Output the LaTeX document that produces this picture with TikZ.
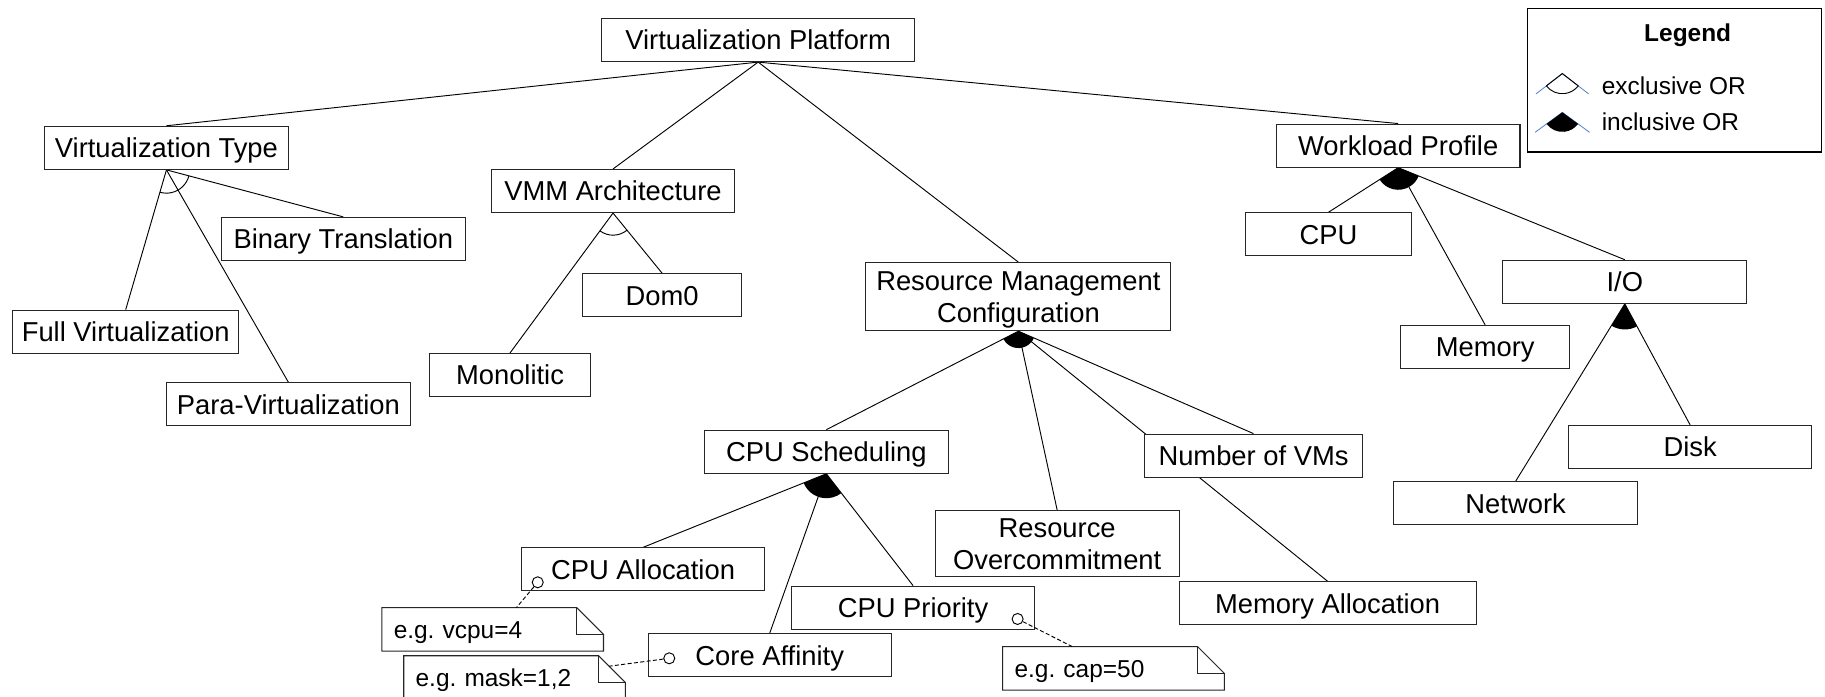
\documentclass[tikz,border=0pt]{standalone}
\usepackage{fontspec}
\setmainfont{Liberation Sans}
\usetikzlibrary{calc}
\pgfdeclarelayer{edges}
\pgfsetlayers{edges,main}

\definecolor{legblue}{RGB}{79,129,209}

\tikzset{
  x=1pt, y=-1pt,
  feat/.style={draw=black!85, fill=white, line width=0.9pt, inner sep=0pt,
    minimum height=37pt, align=center, text height=16.8pt, text depth=0pt,
    font=\fontsize{23.5}{27.5}\selectfont},
  twoline/.style={text height=44.3pt, text depth=0pt},
  link/.style={draw=black, line width=0.8pt},
  notebox/.style={inner xsep=10pt, inner ysep=0pt, minimum height=37pt,
    text width=170pt, align=left, text height=15pt, text depth=0pt,
    font=\fontsize{21}{25}\selectfont\frenchspacing},
  noteline/.style={draw=black!85, fill=white, line width=0.9pt},
  anno/.style={circle, draw=black, fill=white, line width=0.8pt, inner sep=0pt, minimum size=9.5pt},
  annolink/.style={draw=black, line width=0.8pt, dash pattern=on 3.5pt off 2pt},
  legtext/.style={inner sep=0pt, anchor=base west, font=\fontsize{21}{25}\selectfont},
}

% exclusive-OR arc between the outermost children of a feature
\newcommand\xorarc[4]{%
  \draw[link] let \p1=($(#2.north)-(#1.south)$), \p2=($(#3.north)-(#1.south)$),
    \n1={atan2(\y1,\x1)}, \n2={atan2(\y2,\x2)} in
    ($(#1.south)+(\n1:#4pt)$) arc[start angle=\n1, end angle=\n2, radius=#4pt];
}
% inclusive-OR filled sector between the outermost children of a feature
\newcommand\orfan[4]{%
  \fill let \p1=($(#2.north)-(#1.south)$), \p2=($(#3.north)-(#1.south)$),
    \n1={atan2(\y1,\x1)}, \n2={atan2(\y2,\x2)} in
    (#1.south) -- ($(#1.south)+(\n1:#4pt)$) arc[start angle=\n1, end angle=\n2, radius=#4pt] -- cycle;
}
% UML note outline with folded corner
\newcommand\notefold[1]{%
  \draw[noteline] (#1.north west) -- ([xshift=-23pt]#1.north east) -- ([yshift=-23pt]#1.north east)
    -- (#1.south east) -- (#1.south west) -- cycle;
  \draw[noteline, fill=none] ([xshift=-23pt]#1.north east) |- ([yshift=-23pt]#1.north east);
}

\begin{document}
\begin{tikzpicture}
\useasboundingbox (0,0) rectangle (1568,598);

% features
\node[feat, minimum width=269.3pt] (vp) at (651.4,34.4) {Virtualization Platform};
\node[feat, minimum width=209pt] (vt) at (143,127) {Virtualization Type};
\node[feat, minimum width=209.4pt] (bt) at (295,205.3) {Binary Translation};
\node[feat, minimum width=194.5pt] (fv) at (108,285) {Full Virtualization};
\node[feat, minimum width=209.5pt] (pv) at (247.8,347.4) {Para-Virtualization};
\node[feat, minimum width=209.4pt] (vmm) at (526.7,164.1) {VMM Architecture};
\node[feat, minimum width=136.6pt] (dom) at (568.9,253.7) {Dom0};
\node[feat, minimum width=137.6pt] (mono) at (438.2,322.2) {Monolitic};
\node[feat, twoline, minimum width=262pt, minimum height=58.4pt] (rmc) at (875,254.9) {Resource Management\\Configuration};
\node[feat, minimum width=209.7pt] (cs) at (710,388.1) {CPU Scheduling};
\node[feat, minimum width=208.6pt] (ca) at (552.5,489.2) {CPU Allocation};
\node[feat, minimum width=209pt] (cor) at (661.3,563) {Core Affinity};
\node[feat, minimum width=209pt] (cpr) at (784.5,522.1) {CPU Priority};
\node[feat, twoline, minimum width=209.4pt, minimum height=56.7pt] (ro) at (908.3,467.1) {Resource\\Overcommitment};
\node[feat, minimum width=187.6pt] (nvm) at (1077,391.5) {Number of VMs};
\node[feat, minimum width=255pt] (ma) at (1140.7,518.4) {Memory Allocation};
\node[feat, minimum width=209.3pt] (wp) at (1201.3,125.1) {Workload Profile};
\node[feat, minimum width=142pt] (cpu) at (1141.4,201.3) {CPU};
\node[feat, minimum width=145.5pt] (mem) at (1276,298.1) {Memory};
\node[feat, minimum width=209.5pt] (io) at (1396,242.1) {I/O};
\node[feat, minimum width=209.2pt] (disk) at (1452.1,384) {Disk};
\node[feat, minimum width=209.5pt] (net) at (1302.2,432.4) {Network};

% notes
\node[notebox] (n1) at (423.3,540.7) {e.g. vcpu=4};
\node[notebox] (n2) at (442.1,582.1) {e.g. mask=1,2};
\node[notebox] (n3) at (956.7,574.2) {e.g. cap=50};

\begin{pgfonlayer}{edges}
  \foreach \c in {vt,vmm,rmc,wp} \draw[link] (vp.south) -- (\c.north);
  \foreach \c in {fv,pv,bt} \draw[link] (vt.south) -- (\c.north);
  \foreach \c in {mono,dom} \draw[link] (vmm.south) -- (\c.north);
  \foreach \c in {cs,ro,ma,nvm} \draw[link] (rmc.south) -- (\c.north);
  \foreach \c in {ca,cor,cpr} \draw[link] (cs.south) -- (\c.north);
  \foreach \c in {cpu,mem,io} \draw[link] (wp.south) -- (\c.north);
  \foreach \c in {net,disk} \draw[link] (io.south) -- (\c.north);
  \notefold{n1}
  \notefold{n2}
  \notefold{n3}
\end{pgfonlayer}

% group decorations
\xorarc{vt}{fv}{bt}{20}
\xorarc{vmm}{mono}{dom}{19}
\orfan{rmc}{cs}{nvm}{14.5}
\orfan{cs}{ca}{cpr}{21}
\orfan{wp}{cpu}{io}{19}
\orfan{io}{net}{disk}{22}

% attribute markers and their notes
\node[anno] (cao) at (462,500.3) {};
\node[anno] (coro) at (575,565.6) {};
\node[anno] (cpro) at (874.3,531.8) {};
\draw[annolink] (cao) -- ([xshift=20.4pt]n1.north);
\draw[annolink] (coro) -- ([xshift=-14pt,yshift=-9pt]n2.north east);
\draw[annolink] (cpro) -- ([xshift=-35.5pt]n3.north);

% legend
\node[draw=black, line width=1.2pt, minimum width=252.4pt, minimum height=123.4pt, inner sep=0pt] (leg) at (1438.8,68.9) {};
\node[legtext, anchor=base, font=\fontsize{21}{25}\selectfont\bfseries] (legt) at (1450,35.8) {Legend};
\coordinate (xa) at (1342.3,63.2);
\coordinate (oa) at (1342.3,96.5);
\draw[legblue, line width=0.7pt] ($(xa)+(-142.3:28.6pt)$) -- (xa) -- ($(xa)+(-37.7:28.6pt)$);
\draw[link] ($(xa)+(-142.3:17.3pt)$) -- (xa) -- ($(xa)+(-37.7:17.3pt)$);
\draw[link] ($(xa)+(-142.3:17.3pt)$) arc[start angle=-142.3, end angle=-37.7, radius=17.3pt];
\draw[legblue, line width=0.7pt] ($(oa)+(-143.7:29pt)$) -- (oa) -- ($(oa)+(-36.3:29pt)$);
\fill (oa) -- ($(oa)+(-143.7:16.8pt)$) arc[start angle=-143.7, end angle=-36.3, radius=16.8pt] -- cycle;
\node[legtext] (lx) at (1376,80.8) {exclusive OR};
\node[legtext] (lo) at (1376,112.3) {inclusive OR};
\end{tikzpicture}
\end{document}
